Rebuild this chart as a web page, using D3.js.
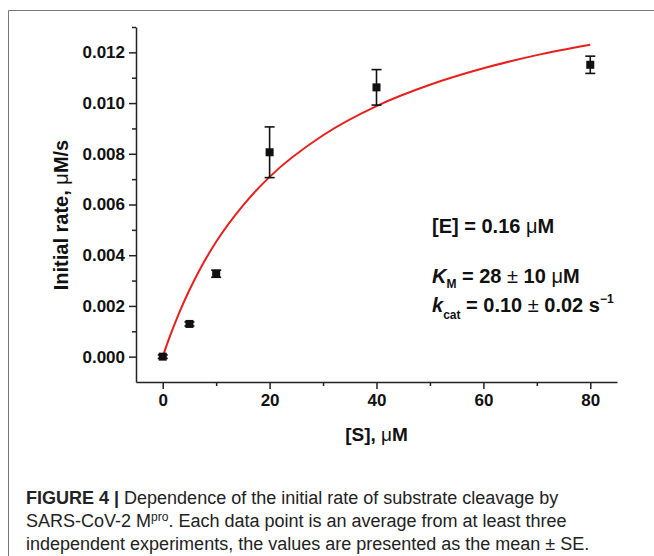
<!DOCTYPE html>
<html>
<head>
<meta charset="utf-8">
<script src="https://cdn.jsdelivr.net/npm/d3@7"></script>
<style>
  body { margin: 0; background: #fff; }
  svg { display: block; font-family: "Liberation Sans", Arial, sans-serif; }
</style>
</head>
<body>
<svg id="chart"></svg>
<script>
// Data
const substrate = [0, 5, 10, 20, 40, 80];
const rate = [0.0000, 0.00129, 0.00327, 0.00806, 0.01062, 0.01151];
const rateErr = [0.00004, 0.00005, 0.00011, 0.00100, 0.00070, 0.00034];

// fitted curve
const fitS = [0, 1, 2, 3, 5, 7, 10, 15, 20, 30, 40, 50, 60, 70, 80];
const fitV = [0, 0.00060, 0.00116, 0.00169, 0.00263, 0.00346, 0.00453, 0.00596, 0.00709, 0.00873, 0.00988, 0.01072, 0.01137, 0.01189, 0.01230];

const xTicks = [0, 20, 40, 60, 80];
const xMinor = [10, 30, 50, 70];
const yTicks = [0, 0.002, 0.004, 0.006, 0.008, 0.010, 0.012];
const yMinor = [0.001, 0.003, 0.005, 0.007, 0.009, 0.011, 0.013];

const W = 654, H = 556;
const svg = d3.select("#chart").attr("width", W).attr("height", H);

// frame of the figure panel
svg.append("path")
    .attr("d", `M8.5,${H} V10.5 H${W}`)
    .attr("fill", "none")
    .attr("stroke", "#777")
    .attr("stroke-width", 1);

const x = d3.scaleLinear().domain([-5, 85]).range([136, 617]);
const y = d3.scaleLinear().domain([-0.001, 0.013]).range([382, 27]);

// axes
const xAxis = svg.append("g").attr("transform", `translate(0,${y(-0.001)})`);
xAxis.call(d3.axisBottom(x).tickValues(xTicks).tickSize(7).tickPadding(5).tickFormat(d3.format("d")).tickSizeOuter(0));
const xMin = svg.append("g").attr("transform", `translate(0,${y(-0.001)})`);
xMin.call(d3.axisBottom(x).tickValues(xMinor).tickSize(4).tickFormat("").tickSizeOuter(0));
xMin.select(".domain").remove();

const yAxis = svg.append("g").attr("transform", `translate(${x(-5)},0)`);
yAxis.call(d3.axisLeft(y).tickValues(yTicks).tickSize(7).tickPadding(4).tickFormat(d3.format(".3f")).tickSizeOuter(0));
const yMin = svg.append("g").attr("transform", `translate(${x(-5)},0)`);
yMin.call(d3.axisLeft(y).tickValues(yMinor).tickSize(4).tickFormat("").tickSizeOuter(0));
yMin.select(".domain").remove();

svg.selectAll(".domain, .tick line").attr("stroke", "#222").attr("stroke-width", 1.5);
svg.selectAll(".tick text")
    .attr("font-family", "Liberation Sans, Arial, sans-serif")
    .attr("font-size", 17)
    .attr("font-weight", "bold")
    .attr("fill", "#111");

// fit curve
const line = d3.line()
    .x((d, i) => x(fitS[i]))
    .y(d => y(d))
    .curve(d3.curveMonotoneX);
svg.append("path")
    .datum(fitV)
    .attr("d", line)
    .attr("fill", "none")
    .attr("stroke", "#e8201c")
    .attr("stroke-width", 2);

// error bars and points
const pts = substrate.map((s, i) => ({ s: s, v: rate[i], e: rateErr[i] }));
const g = svg.append("g").attr("stroke", "#111").attr("stroke-width", 1.6);
pts.forEach(d => {
    if (d.e > 0.0002) {
        g.append("line").attr("x1", x(d.s)).attr("x2", x(d.s)).attr("y1", y(d.v - d.e)).attr("y2", y(d.v + d.e));
        [d.v - d.e, d.v + d.e].forEach(v => {
            g.append("line").attr("x1", x(d.s) - 5).attr("x2", x(d.s) + 5).attr("y1", y(v)).attr("y2", y(v));
        });
    } else {
        [d.v - d.e - 0.00003, d.v + d.e + 0.00003].forEach(v => {
            g.append("line").attr("x1", x(d.s) - 5).attr("x2", x(d.s) + 5).attr("y1", y(v)).attr("y2", y(v));
        });
    }
});
svg.selectAll(".pt")
    .data(pts)
    .enter()
    .append("rect")
    .attr("class", "pt")
    .attr("x", d => x(d.s) - 4)
    .attr("y", d => y(d.v) - 4)
    .attr("width", 8)
    .attr("height", 8)
    .attr("fill", "#111");

// axis labels
svg.append("text")
    .attr("x", x(40))
    .attr("y", 441)
    .attr("text-anchor", "middle")
    .attr("font-size", 19)
    .attr("font-weight", "bold")
    .attr("fill", "#111")
    .html('[S], <tspan font-weight="normal">\u03bc</tspan>M');

svg.append("text")
    .attr("transform", "translate(68,215) rotate(-90)")
    .attr("text-anchor", "middle")
    .attr("font-size", 20)
    .attr("font-weight", "bold")
    .attr("fill", "#111")
    .html('Initial rate, <tspan font-weight="normal">\u03bc</tspan>M/s');

// annotations
const ann = svg.append("g").attr("font-size", 20).attr("font-weight", "bold").attr("fill", "#111");
ann.append("text").attr("x", 432).attr("y", 233)
    .html('[E] = 0.16 <tspan font-weight="normal">\u03bc</tspan>M');
ann.append("text").attr("x", 432).attr("y", 283)
    .html('<tspan font-style="italic">K</tspan><tspan font-size="12" dy="5">M</tspan><tspan dy="-5"> = 28 </tspan><tspan font-weight="normal">\u00b1</tspan> 10 <tspan font-weight="normal">\u03bc</tspan>M');
ann.append("text").attr("x", 432).attr("y", 312)
    .html('<tspan font-style="italic">k</tspan><tspan font-size="12" dy="7">cat</tspan><tspan dy="-7"> = 0.10 </tspan><tspan font-weight="normal">\u00b1</tspan> 0.02 s<tspan font-size="12" dy="-9">\u22121</tspan>');

// caption
const cap = svg.append("g")
    .attr("font-family", "Liberation Sans Narrow, Arial Narrow, sans-serif")
    .attr("font-size", 18)
    .attr("fill", "#222");
cap.append("text").attr("x", 26).attr("y", 504)
    .html('<tspan font-weight="bold">FIGURE 4 |</tspan> Dependence of the initial rate of substrate cleavage by');
cap.append("text").attr("x", 26).attr("y", 527)
    .html('SARS-CoV-2 M<tspan font-size="12" dy="-6">pro</tspan><tspan dy="6">. Each data point is an average from at least three</tspan>');
cap.append("text").attr("x", 26).attr("y", 550)
    .text('independent experiments, the values are presented as the mean \u00b1 SE.');
</script>
</body>
</html>
